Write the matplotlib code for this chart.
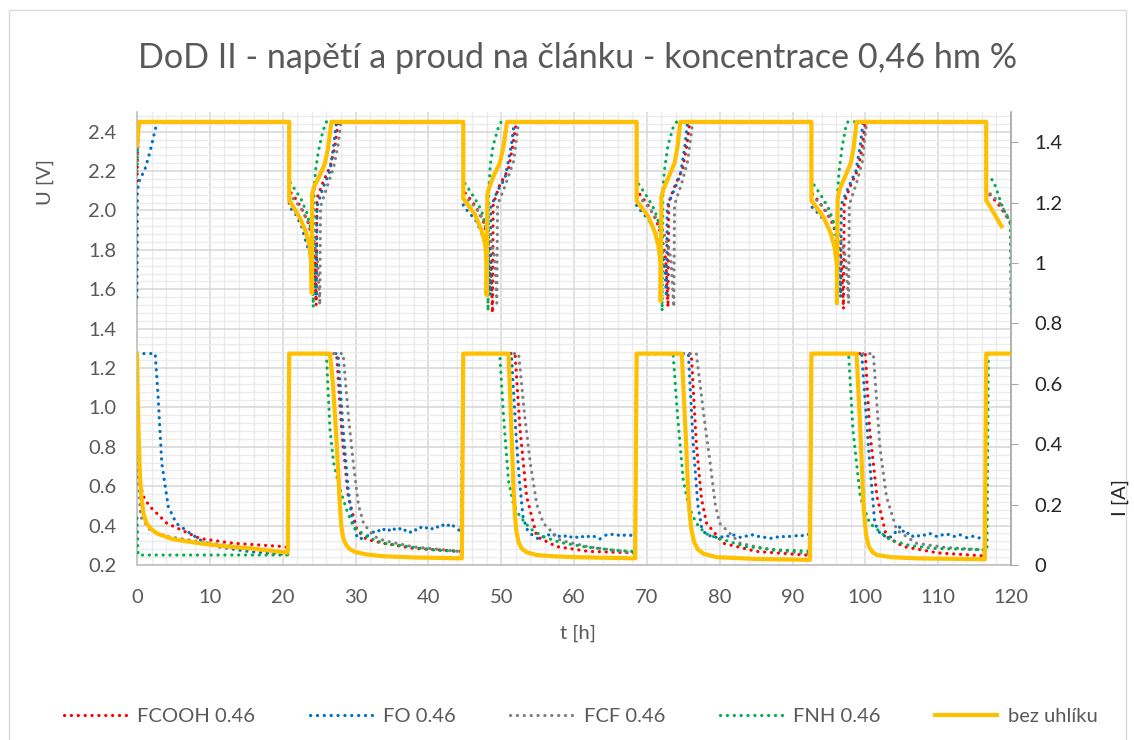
import matplotlib
matplotlib.use('Agg')
import matplotlib.pyplot as plt
from matplotlib.lines import Line2D
from matplotlib.patches import Rectangle
from matplotlib.ticker import MultipleLocator, FixedLocator, FuncFormatter

plt.rcParams['font.family'] = ['Lato', 'DejaVu Sans']

# ---------------- data: voltage U [V] ----------------
red_vt = [0, 0.2, 20.9, 20.9, 21.6, 22.6, 23.5, 24.1, 24.4, 24.6, 24.7, 25.6, 26.5, 27.2, 27.6,
          44.8, 44.8, 45.5, 46.5, 47.5, 48.2, 48.6, 48.8, 48.9, 49.8, 51.0, 51.6, 52.1,
          68.6, 68.6, 69.3, 70.3, 71.3, 72.1, 72.6, 72.9, 73.0, 73.9, 74.9, 75.5, 75.9,
          92.6, 92.6, 93.3, 94.3, 95.3, 96.2, 96.7, 97.0, 97.1, 98.0, 99.0, 99.6, 100.0,
          116.6, 116.6, 117.1, 118.3, 119.4, 120.0]
red_vu = [2.15, 2.45, 2.45, 2.10, 2.07, 2.01, 1.94, 1.85, 1.74, 1.52, 2.06, 2.15, 2.22, 2.33, 2.45,
          2.45, 2.10, 2.07, 2.02, 1.95, 1.86, 1.75, 1.48, 2.03, 2.13, 2.21, 2.33, 2.45,
          2.45, 2.10, 2.07, 2.02, 1.95, 1.86, 1.75, 1.51, 2.04, 2.13, 2.21, 2.33, 2.45,
          2.45, 2.09, 2.06, 2.01, 1.95, 1.86, 1.75, 1.50, 2.04, 2.13, 2.21, 2.33, 2.45,
          2.45, 2.10, 2.08, 2.03, 1.97, 1.93]

blue_vt = [0, 0.05, 0.3, 1.1, 1.8, 2.5, 2.8, 20.9, 20.9, 21.8, 22.6, 23.2, 24.0, 24.5, 24.6,
           24.7, 25.6, 26.5, 27.0, 27.4,
           44.8, 44.8, 45.6, 46.5, 47.3, 48.0, 48.4, 48.5, 48.6, 49.5, 50.5, 51.4, 51.8,
           68.6, 68.6, 69.4, 70.3, 71.2, 72.0, 72.5, 72.7, 72.8, 73.7, 74.6, 75.2, 75.6,
           92.6, 92.6, 93.4, 94.4, 95.3, 96.0, 96.4, 96.6, 96.7, 97.7, 98.7, 99.3, 99.7,
           116.4]
blue_vu = [1.56, 2.10, 2.15, 2.21, 2.30, 2.41, 2.45, 2.45, 2.02, 1.98, 1.92, 1.84, 1.75, 1.65, 1.56,
           2.02, 2.12, 2.20, 2.33, 2.45,
           2.45, 2.02, 1.99, 1.95, 1.89, 1.82, 1.70, 1.57, 2.02, 2.10, 2.16, 2.33, 2.45,
           2.45, 2.02, 1.99, 1.95, 1.89, 1.81, 1.70, 1.56, 2.02, 2.10, 2.18, 2.32, 2.45,
           2.45, 2.02, 1.99, 1.95, 1.89, 1.81, 1.70, 1.56, 2.03, 2.12, 2.20, 2.33, 2.45,
           2.45]

gray_vt = [0, 0.3, 20.9, 20.9, 21.7, 22.7, 23.6, 24.3, 24.8, 25.1, 25.2, 26.1, 27.0, 27.6, 28.0,
           44.8, 44.8, 45.6, 46.6, 47.6, 48.5, 49.1, 49.4, 49.5, 50.6, 51.7, 52.1, 52.4,
           68.6, 68.6, 69.4, 70.4, 71.5, 72.5, 73.3, 73.7, 73.8, 74.8, 75.6, 76.0, 76.3,
           92.6, 92.6, 93.4, 94.4, 95.5, 96.5, 97.3, 97.7, 97.8, 98.8, 99.6, 99.9, 100.2,
           116.6, 116.6, 117.3, 118.4, 119.4, 120.0]
gray_vu = [2.25, 2.45, 2.45, 2.08, 2.05, 2.00, 1.93, 1.85, 1.74, 1.52, 2.02, 2.12, 2.22, 2.33, 2.45,
           2.45, 2.07, 2.05, 2.01, 1.95, 1.87, 1.76, 1.53, 2.03, 2.13, 2.25, 2.36, 2.45,
           2.45, 2.07, 2.05, 2.01, 1.95, 1.87, 1.76, 1.51, 2.03, 2.14, 2.25, 2.36, 2.45,
           2.45, 2.07, 2.05, 2.01, 1.95, 1.87, 1.76, 1.53, 2.03, 2.14, 2.25, 2.36, 2.45,
           2.45, 2.10, 2.08, 2.04, 1.98, 1.94]

green_vt = [0, 0.2, 20.9, 20.9, 21.8, 22.5, 23.3, 23.8, 24.1, 24.2, 24.3, 24.5, 24.9, 25.5, 26.0,
            44.8, 44.8, 45.7, 46.4, 47.3, 47.8, 48.1, 48.2, 48.3, 48.5, 48.9, 49.6, 50.0,
            68.6, 68.6, 69.5, 70.2, 71.1, 71.7, 72.0, 72.1, 72.2, 72.4, 72.9, 73.6, 74.1,
            92.6, 92.6, 93.5, 94.2, 95.1, 95.7, 96.0, 96.1, 96.2, 96.4, 96.8, 97.3, 97.6,
            116.6, 116.6, 117.6, 118.9, 119.9, 120.0]
green_vu = [2.20, 2.45, 2.45, 2.15, 2.10, 2.06, 1.99, 1.92, 1.85, 1.51, 2.10, 2.20, 2.30, 2.40, 2.45,
            2.45, 2.15, 2.10, 2.06, 2.00, 1.93, 1.86, 1.49, 2.10, 2.23, 2.33, 2.42, 2.45,
            2.45, 2.15, 2.10, 2.06, 2.00, 1.93, 1.86, 1.49, 2.10, 2.20, 2.33, 2.42, 2.45,
            2.45, 2.15, 2.10, 2.06, 2.00, 1.93, 1.86, 1.52, 2.10, 2.20, 2.32, 2.42, 2.45,
            2.45, 2.18, 2.15, 2.01, 1.94, 1.50]

yel_vt = [0, 0.3, 20.9, 20.9, 21.1, 22.4, 23.2, 23.7, 23.9, 24.0, 24.05, 24.3, 25.0, 25.8, 26.2, 26.7,
          44.8, 44.8, 45.0, 46.4, 47.3, 47.8, 48.0, 48.0, 48.1, 48.3, 48.9, 49.8, 50.3, 50.8,
          68.6, 68.6, 68.8, 70.2, 71.1, 71.6, 71.9, 71.9, 72.0, 72.3, 73.0, 73.8, 74.2, 74.6,
          92.6, 92.6, 92.8, 94.2, 95.2, 95.8, 96.1, 96.1, 96.2, 96.5, 97.2, 98.0, 98.4, 98.8,
          116.6, 116.6, 116.8, 118.7]
yel_vu = [2.33, 2.45, 2.45, 2.05, 2.04, 1.96, 1.89, 1.82, 1.74, 1.58, 2.08, 2.12, 2.17, 2.24, 2.31, 2.45,
          2.45, 2.06, 2.05, 1.98, 1.90, 1.83, 1.74, 1.57, 2.08, 2.11, 2.17, 2.24, 2.32, 2.45,
          2.45, 2.05, 2.04, 1.97, 1.89, 1.82, 1.73, 1.54, 2.07, 2.11, 2.17, 2.24, 2.32, 2.45,
          2.45, 2.05, 2.04, 1.97, 1.89, 1.81, 1.72, 1.53, 2.06, 2.11, 2.17, 2.24, 2.32, 2.45,
          2.45, 2.05, 2.04, 1.92]

# ---------------- data: current I [A] ----------------
red_it = [0, 0.15, 0.5, 1.0, 1.8, 4.1, 8.6, 13.2, 20.1, 20.7, 20.9,
          27.4, 28.1, 29.0, 30.2, 31.5, 33.8, 38.0, 44.6, 44.8,
          51.9, 52.6, 53.5, 54.9, 57.6, 62.0, 68.4, 68.6,
          76.1, 76.8, 77.5, 78.2, 80.5, 85.0, 92.4, 92.6,
          100.0, 100.6, 101.6, 102.9, 105.2, 110.0, 116.4]
red_i = [0.70, 0.35, 0.26, 0.22, 0.193, 0.138, 0.088, 0.072, 0.061, 0.058, 0.70,
         0.70, 0.447, 0.226, 0.116, 0.085, 0.072, 0.055, 0.045, 0.70,
         0.70, 0.447, 0.226, 0.094, 0.061, 0.045, 0.040, 0.70,
         0.70, 0.40, 0.22, 0.138, 0.072, 0.045, 0.032, 0.70,
         0.70, 0.447, 0.226, 0.094, 0.061, 0.040, 0.030]

blue_it = [0, 2.5, 2.9, 3.4, 4.3, 5.4, 7.3, 9.0, 10.9, 15.5, 20.1, 20.7, 20.9,
           27.6, 28.3, 29.0, 29.5, 30.2,
           30.5, 31.0, 31.5, 32.0, 32.5, 33.0, 33.5, 34.0, 34.5, 35.0, 35.5, 36.0, 36.5, 37.0,
           37.5, 38.0, 38.5, 39.0, 39.5, 40.0, 40.5, 41.0, 41.5, 42.0, 42.5, 43.0, 43.5, 44.0, 44.5,
           44.8, 51.4, 52.0, 52.5, 53.0, 53.5, 54.0,
           54.5, 55.0, 55.5, 56.0, 56.5, 57.0, 57.5, 58.0, 58.5, 59.0, 59.5, 60.0, 60.5, 61.0,
           61.5, 62.0, 62.5, 63.0, 63.5, 64.0, 64.5, 65.0, 65.5, 66.0, 66.5, 67.0, 67.5, 68.0, 68.4,
           68.6, 75.7, 76.4, 77.0, 77.5, 78.0,
           78.5, 79.0, 79.5, 80.0, 80.5, 81.0, 81.5, 82.0, 82.5, 83.0, 83.5, 84.0, 84.5, 85.0,
           85.5, 86.0, 86.5, 87.0, 87.5, 88.0, 88.5, 89.0, 89.5, 90.0, 90.5, 91.0, 91.5, 92.0, 92.4,
           92.6, 99.5, 100.6, 101.3, 102.0,
           102.5, 103.0, 103.5, 104.0, 104.5, 104.8, 105.2, 105.6, 106.0, 106.5, 107.0, 107.5,
           108.0, 108.5, 109.0, 109.5, 110.0, 110.5, 111.0, 111.5, 112.0, 112.5, 113.0, 113.5,
           114.0, 114.5, 115.0, 115.5, 116.0, 116.4]
blue_i = [0.70, 0.70, 0.557, 0.337, 0.193, 0.138, 0.105, 0.078, 0.061, 0.044, 0.036, 0.035, 0.70,
          0.70, 0.447, 0.25, 0.16, 0.094,
          0.085, 0.090, 0.095, 0.100, 0.110, 0.118, 0.108, 0.120, 0.112, 0.125, 0.115, 0.122, 0.110, 0.118,
          0.108, 0.120, 0.113, 0.125, 0.118, 0.128, 0.120, 0.130, 0.122, 0.132, 0.125, 0.138, 0.128, 0.118, 0.112,
          0.70, 0.70, 0.447, 0.28, 0.16, 0.12, 0.105,
          0.095, 0.088, 0.097, 0.090, 0.100, 0.093, 0.105, 0.095, 0.090, 0.100, 0.092, 0.098, 0.090, 0.097,
          0.088, 0.095, 0.100, 0.090, 0.085, 0.095, 0.100, 0.105, 0.097, 0.100, 0.093, 0.100, 0.096, 0.100, 0.097,
          0.70, 0.70, 0.39, 0.20, 0.127, 0.105,
          0.095, 0.100, 0.092, 0.098, 0.090, 0.097, 0.092, 0.100, 0.095, 0.090, 0.097, 0.093, 0.100, 0.092,
          0.096, 0.090, 0.094, 0.088, 0.095, 0.092, 0.098, 0.090, 0.095, 0.093, 0.097, 0.092, 0.100, 0.098, 0.105,
          0.70, 0.70, 0.337, 0.138, 0.105,
          0.095, 0.100, 0.092, 0.105, 0.118, 0.128, 0.112, 0.100, 0.108, 0.095, 0.102, 0.093,
          0.100, 0.096, 0.105, 0.098, 0.092, 0.100, 0.095, 0.103, 0.097, 0.092, 0.100, 0.095,
          0.090, 0.097, 0.093, 0.088, 0.095, 0.100]

gray_it = [0, 0.15, 0.5, 1.8, 4.0, 8.6, 14.0, 20.1, 20.7, 20.9,
           28.3, 29.0, 29.7, 30.4, 31.1, 32.5, 34.0, 38.0, 44.6, 44.8,
           52.4, 53.2, 54.0, 54.9, 55.8, 58.1, 62.0, 68.4, 68.6,
           76.8, 77.8, 78.7, 79.4, 80.0, 82.8, 87.0, 92.4, 92.6,
           101.1, 102.0, 102.9, 104.3, 107.0, 111.0, 116.4]
gray_i = [0.70, 0.30, 0.16, 0.116, 0.095, 0.077, 0.060, 0.044, 0.042, 0.70,
          0.70, 0.50, 0.337, 0.20, 0.138, 0.095, 0.080, 0.060, 0.044, 0.70,
          0.70, 0.50, 0.337, 0.20, 0.138, 0.082, 0.060, 0.040, 0.70,
          0.70, 0.50, 0.337, 0.20, 0.138, 0.072, 0.050, 0.037, 0.70,
          0.70, 0.39, 0.226, 0.116, 0.072, 0.058, 0.050]

green_it = [0, 0.15, 20.7, 20.9,
            26.0, 26.5, 27.0, 27.9, 28.8, 29.7, 31.5, 33.8, 40.7, 44.6, 44.8,
            49.8, 50.3, 51.0, 51.7, 52.6, 54.0, 55.8, 58.0, 61.3, 65.0, 68.4, 68.6,
            73.6, 74.2, 75.0, 75.8, 76.8, 78.0, 79.6, 83.6, 88.0, 92.4, 92.6,
            97.7, 98.3, 99.3, 100.6, 103.4, 106.0, 109.3, 116.7, 116.9, 120.0]
green_i = [0.155, 0.033, 0.033, 0.70,
           0.70, 0.447, 0.337, 0.248, 0.182, 0.127, 0.094, 0.072, 0.050, 0.044, 0.70,
           0.70, 0.50, 0.28, 0.20, 0.16, 0.12, 0.094, 0.075, 0.061, 0.050, 0.044, 0.70,
           0.70, 0.50, 0.28, 0.19, 0.138, 0.105, 0.090, 0.061, 0.050, 0.046, 0.70,
           0.70, 0.447, 0.226, 0.138, 0.083, 0.065, 0.055, 0.050, 0.70, 0.70]

yel_it = [0, 0.1, 0.2, 0.4, 0.6, 0.9, 1.3, 2.0, 2.7, 4.0, 5.0, 8.6, 12.0, 15.5, 20.7, 20.9,
          26.5, 26.9, 27.3, 27.6, 27.85, 28.05, 28.3, 28.7, 29.2, 30.0, 31.5, 33.8, 38.0, 44.6, 44.8,
          51.0, 51.3, 51.5, 51.7, 51.9, 52.1, 52.4, 52.8, 53.5, 54.9, 57.0, 60.0, 68.4, 68.6,
          74.8, 75.1, 75.4, 75.6, 75.8, 76.1, 76.5, 77.0, 77.8, 79.6, 85.0, 92.4, 92.6,
          98.8, 99.1, 99.4, 99.6, 99.8, 100.1, 100.5, 101.0, 101.6, 103.5, 107.0, 116.4, 116.6, 119.9]
yel_i = [0.70, 0.55, 0.447, 0.30, 0.226, 0.17, 0.138, 0.118, 0.105, 0.093, 0.085, 0.072, 0.062, 0.055, 0.041, 0.70,
         0.70, 0.60, 0.45, 0.32, 0.20, 0.13, 0.09, 0.067, 0.053, 0.043, 0.035, 0.029, 0.025, 0.022, 0.70,
         0.70, 0.52, 0.38, 0.25, 0.16, 0.11, 0.075, 0.055, 0.042, 0.033, 0.029, 0.026, 0.022, 0.70,
         0.70, 0.55, 0.40, 0.28, 0.19, 0.12, 0.075, 0.052, 0.037, 0.026, 0.020, 0.017, 0.70,
         0.70, 0.55, 0.40, 0.28, 0.18, 0.10, 0.060, 0.042, 0.033, 0.026, 0.022, 0.019, 0.70, 0.70]

labels = ['FCOOH 0.46', 'FO 0.46', 'FCF 0.46', 'FNH 0.46', 'bez uhlíku']
colors = ['#FF0000', '#0070C0', '#7F7F7F', '#00B050', '#FFC000']
x_ticks = [0, 10, 20, 30, 40, 50, 60, 70, 80, 90, 100, 110, 120]
u_ticks = [0.2, 0.4, 0.6, 0.8, 1.0, 1.2, 1.4, 1.6, 1.8, 2.0, 2.2, 2.4]
i_ticks = [0, 0.2, 0.4, 0.6, 0.8, 1.0, 1.2, 1.4]

# ---------------- figure ----------------
fig = plt.figure(figsize=(11.34, 7.40), dpi=100)
ax = fig.add_axes([137 / 1134, 1 - 565 / 740, 874 / 1134, 453 / 740])
ax2 = ax.twinx()

dot = dict(linestyle=(0, (0.05, 2.1)), linewidth=2.3, dash_capstyle='round')
volt = [(red_vt, red_vu), (blue_vt, blue_vu), (gray_vt, gray_vu), (green_vt, green_vu)]
curr = [(red_it, red_i), (blue_it, blue_i), (gray_it, gray_i), (green_it, green_i)]
for (t, u), c in zip(volt, colors[:4]):
    ax.plot(t, u, color=c, zorder=3, **dot)
ax.plot(yel_vt, yel_vu, color=colors[4], lw=3.0, zorder=4, solid_joinstyle='round')
for (t, i), c in zip(curr, colors[:4]):
    ax2.plot(t, i, color=c, zorder=3, **dot)
ax2.plot(yel_it, yel_i, color=colors[4], lw=3.0, zorder=4, solid_joinstyle='round')

ax.set_xlim(0, 120)
ax.set_ylim(0.2, 2.5)
ax2.set_ylim(0, 1.5)

ax.xaxis.set_major_locator(FixedLocator(x_ticks))
ax.xaxis.set_minor_locator(MultipleLocator(2))
ax.yaxis.set_major_locator(FixedLocator(u_ticks))
ax.yaxis.set_minor_locator(MultipleLocator(0.04))
ax.yaxis.set_major_formatter(FuncFormatter(lambda v, p: f'{v:.1f}'))
ax2.yaxis.set_major_locator(FixedLocator(i_ticks))
ax2.yaxis.set_major_formatter(FuncFormatter(lambda v, p: f'{v:g}'))

ax.grid(which='major', color='#d9d9d9', lw=1.2, zorder=0)
ax.grid(which='minor', color='#ebebeb', lw=1.0, zorder=0)
ax.set_axisbelow(True)

for s in ['top', 'right']:
    ax.spines[s].set_visible(False)
ax.spines['left'].set_color('#bfbfbf')
ax.spines['bottom'].set_color('#bfbfbf')
ax.spines['left'].set_linewidth(1.2)
ax.spines['bottom'].set_linewidth(1.2)
for s in ['top', 'left', 'bottom']:
    ax2.spines[s].set_visible(False)
ax2.spines['right'].set_color('#a6a6a6')
ax2.spines['right'].set_linewidth(1.2)

FS = 14.5
ax.tick_params(axis='both', which='both', length=0)
ax.tick_params(axis='y', labelsize=FS, labelcolor='#595959', pad=15)
ax.tick_params(axis='x', labelsize=FS, labelcolor='#595959', pad=17)
ax2.tick_params(axis='y', which='major', length=5, color='#a6a6a6', labelsize=FS,
                labelcolor='#262626', pad=12)
ax2.tick_params(axis='y', which='minor', length=0)

fig.text(45 / 1134, 1 - 182 / 740, 'U [V]', rotation=90, ha='center', va='center',
         fontsize=FS, color='#595959')
fig.text(1120 / 1134, 1 - 498 / 740, 'I [A]', rotation=90, ha='center', va='center',
         fontsize=FS, color='#262626')
fig.text(578 / 1134, 1 - 633 / 740, 't [h]', ha='center', va='center',
         fontsize=FS, color='#595959')
fig.text(578 / 1134, 1 - 58 / 740, 'DoD II - napětí a proud na článku - koncentrace 0,46 hm %',
         ha='center', va='center', fontsize=24.6, color='#595959')

handles = [Line2D([], [], color=c, **dot) for c in colors[:4]]
handles.append(Line2D([], [], color=colors[4], lw=3.0))
leg = fig.legend(handles, labels, loc='center', bbox_to_anchor=(581 / 1134, 1 - 716 / 740),
                 ncol=5, frameon=False, fontsize=14.5, handlelength=3.1, handletextpad=0.55,
                 columnspacing=2.7)
for txt in leg.get_texts():
    txt.set_color('#595959')

fig.patches.append(Rectangle((9 / 1134, -0.01), (1126 - 9) / 1134, 1 - 10 / 740 + 0.01,
                             transform=fig.transFigure, fill=False, edgecolor='#d9d9d9', lw=1.0))

fig.savefig('out.png', dpi=100)
